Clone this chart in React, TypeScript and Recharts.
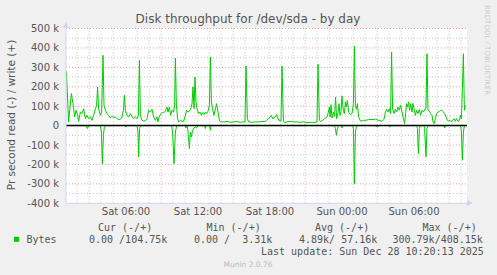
import { LineChart, Line, XAxis, YAxis, ReferenceLine, CartesianGrid } from 'recharts'

// time in minutes since Sat 00:00, values in kB/s
const title = 'Disk throughput for /dev/sda - by day'
const yLabel = 'Pr second read (-) / write (+)'
const timeTicks = [360, 720, 1080, 1440, 1800]
const timeLabels = ['Sat 06:00', 'Sat 12:00', 'Sat 18:00', 'Sun 00:00', 'Sun 06:00']
const valueTicks = [-400, -300, -200, -100, 0, 100, 200, 300, 400, 500]

const writePoints: [number, number][] = [
  [62, 280], [73, 19], [87, 165], [95, 113], [103, 45], [110, 79], [118, 53], [123, 22], [132, 70], [140, 62],
  [148, 87], [157, 36], [165, 53], [173, 36], [182, 45], [190, 27], [198, 53], [207, 87], [213, 105], [218, 199],
  [223, 87], [232, 53], [238, 70], [245, 362], [250, 105], [257, 79], [265, 62], [273, 53], [282, 39], [290, 48],
  [298, 41], [307, 45], [315, 36], [323, 31], [332, 33], [340, 45], [347, 79], [352, 156], [357, 79], [365, 53],
  [373, 45], [382, 62], [390, 48], [398, 36], [407, 45], [415, 36], [422, 53], [427, 336], [432, 53], [440, 27],
  [448, 24], [457, 24], [465, 36], [473, 79], [482, 70], [490, 84], [498, 45], [507, 27], [515, 45], [520, 19],
  [527, 48], [535, 62], [543, 67], [548, 67], [557, 74], [565, 96], [570, 70], [577, 96], [583, 53], [590, 79],
  [598, 70], [603, 105], [607, 348], [612, 105], [618, 36], [623, 19], [632, 27], [640, 22], [648, 22], [657, 53],
  [663, 79], [670, 70], [677, 74], [683, 84], [690, 113], [695, 199], [700, 87], [705, 250], [710, 122], [715, 87],
  [723, 62], [730, 70], [737, 53], [743, 67], [750, 57], [757, 70], [763, 62], [770, 74], [777, 105], [782, 353],
  [787, 122], [793, 87], [800, 53], [807, 87], [813, 113], [820, 70], [827, 27], [833, 19], [848, 19], [865, 21],
  [882, 17], [898, 19], [915, 21], [932, 17], [948, 19], [955, 19], [960, 307], [967, 36], [973, 19], [990, 17],
  [1007, 19], [1023, 19], [1040, 21], [1057, 22], [1065, 31], [1073, 36], [1082, 45], [1087, 53], [1093, 36], [1100, 39],
  [1107, 45], [1113, 57], [1120, 36], [1127, 24], [1135, 24], [1140, 307], [1147, 24], [1153, 15], [1165, 19], [1182, 22],
  [1198, 19], [1215, 19], [1232, 17], [1248, 19], [1265, 15], [1282, 17], [1298, 15], [1315, 19], [1320, 316], [1327, 27],
  [1333, 22], [1343, 27], [1353, 36], [1365, 45], [1372, 70], [1377, 96], [1380, 45], [1385, 108], [1390, 39], [1397, 70],
  [1403, 48], [1408, 147], [1413, 36], [1420, 67], [1425, 113], [1430, 53], [1435, 74], [1440, 153], [1447, 74], [1452, 62],
  [1457, 122], [1462, 96], [1467, 130], [1473, 70], [1482, 57], [1490, 62], [1497, 113], [1502, 408], [1507, 105], [1512, 84],
  [1517, 113], [1523, 45], [1532, 24], [1540, 24], [1548, 27], [1557, 27], [1573, 31], [1590, 31], [1607, 33], [1623, 27],
  [1640, 22], [1650, 33], [1657, 70], [1663, 84], [1670, 70], [1677, 87], [1683, 62], [1688, 379], [1693, 87], [1700, 62],
  [1707, 84], [1713, 70], [1720, 96], [1727, 79], [1733, 105], [1740, 70], [1747, 36], [1753, 10], [1758, 62], [1763, 113],
  [1768, 96], [1773, 122], [1778, 79], [1783, 113], [1790, 70], [1795, 113], [1800, 87], [1807, 53], [1813, 79], [1820, 62],
  [1827, 84], [1833, 53], [1840, 79], [1847, 70], [1853, 79], [1860, 96], [1865, 370], [1870, 79], [1877, 74], [1883, 62],
  [1890, 53], [1895, 19], [1900, 10], [1907, 36], [1913, 62], [1920, 70], [1927, 74], [1933, 79], [1940, 79], [1947, 70],
  [1953, 62], [1960, 45], [1967, 27], [1973, 24], [1980, 27], [1987, 19], [1993, 27], [2000, 36], [2007, 22], [2013, 36],
  [2020, 22], [2027, 27], [2032, 53], [2037, 36], [2042, 190], [2047, 370], [2052, 79], [2057, 105],
]

const readPoints: [number, number][] = [
  [60, 0], [160, 0], [167, 15], [173, 0], [232, 0], [237, 33], [242, 196], [247, 50], [252, 7], [260, 0],
  [355, 0], [360, 7], [365, 0], [415, 0], [420, 33], [423, 161], [428, 15], [433, 0], [588, 0], [593, 33],
  [600, 196], [607, 33], [612, 7], [617, 0], [657, 0], [660, 12], [663, 0], [667, 7], [670, 33], [677, 118],
  [682, 33], [687, 58], [693, 24], [700, 12], [707, 7], [713, 12], [718, 0], [753, 0], [757, 15], [760, 0],
  [778, 0], [782, 24], [785, 0], [1402, 0], [1407, 15], [1412, 50], [1417, 15], [1422, 0], [1437, 0], [1440, 12],
  [1443, 0], [1493, 0], [1497, 15], [1502, 301], [1507, 33], [1512, 7], [1517, 0], [1603, 0], [1607, 3], [1623, 3],
  [1627, 0], [1677, 0], [1680, 7], [1683, 0], [1813, 0], [1817, 15], [1822, 144], [1827, 15], [1832, 0], [1850, 0],
  [1853, 15], [1860, 161], [1865, 15], [1870, 0], [1950, 0], [1953, 12], [1957, 0], [2033, 0], [2037, 33], [2042, 178],
  [2047, 33], [2052, 0], [2057, 0],
]

const legendHeads = ['Cur (-/+)', 'Min (-/+)', 'Avg (-/+)', 'Max (-/+)']
const legendValues = ['0.00 /104.75k', '0.00 /  3.31k', '4.89k/ 57.16k', '300.79k/408.15k']
const seriesName = 'Bytes'
const lastUpdate = 'Last update: Sun Dec 28 10:20:13 2025'

const writeData = writePoints.map(([t, v]) => ({ t, v }))
const readData = readPoints.map(([t, v]) => ({ t, v: -v }))

// rrdtool grid: hour minor lines, 6h major lines, 50k / 100k horizontal
const majorX = [176, 536, 896, 1256, 1616, 1976]
const minorX: number[] = []
for (let t = 116; t <= 2060; t += 60) if (!majorX.includes(t)) minorX.push(t)
const minorY = [-350, -250, -150, -50, 50, 150, 250, 350, 450]
const majorY = [-300, -200, -100, 100, 200, 300, 400, 500]

const green = '#00cc00'
const fontColor = '#555'
const axisColor = '#cfd6f8'
const mono = '"DejaVu Sans Mono", monospace'
const sans = '"DejaVu Sans", sans-serif'

const headX = [98, 206.5, 315, 422.5]
const valX = [89, 194, 299, 392.5]

export default function App() {
  return (
    <div style={{ position: 'absolute', left: 0, top: 0, width: 497, height: 275, background: '#f0f0f0' }}>
      <LineChart width={497} height={275} data={writeData} margin={{ top: 28.5, right: 30, bottom: 51.7, left: 0 }}>
        <CartesianGrid horizontal={false} vertical={false} fill="#fff" stroke="none" />
        {minorX.map((t) => (
          <ReferenceLine key={'mx' + t} x={t} stroke="#c8c8c8" strokeDasharray="1 2" />
        ))}
        {minorY.map((v) => (
          <ReferenceLine key={'my' + v} y={v} stroke="#c8c8c8" strokeDasharray="1 2" />
        ))}
        {majorX.map((t) => (
          <ReferenceLine key={'Mx' + t} x={t} stroke="#eea0a0" strokeDasharray="1 2" />
        ))}
        {majorY.map((v) => (
          <ReferenceLine key={'My' + v} y={v} stroke="#eea0a0" strokeDasharray="1 2" />
        ))}
        <XAxis
          dataKey="t" type="number" domain={[60, 2065]} allowDataOverflow
          ticks={timeTicks} tickFormatter={(t: number) => timeLabels[timeTicks.indexOf(t)]}
          height={20} tickSize={3} tickMargin={2} tickLine={false}
          axisLine={{ stroke: axisColor }}
          tick={{ fill: fontColor, fontSize: 10, fontFamily: sans }}
        />
        <YAxis
          type="number" domain={[-400, 500]} ticks={valueTicks} allowDataOverflow
          tickFormatter={(v: number) => (v === 0 ? '0' : `${v} k`)}
          width={66} tickSize={5} tickMargin={2} tickLine={false}
          axisLine={{ stroke: axisColor }}
          tick={{ fill: fontColor, fontSize: 10, fontFamily: sans }}
        />
        <Line data={writeData} dataKey="v" type="linear" stroke={green} strokeWidth={1} dot={false} isAnimationActive={false} />
        <Line data={readData} dataKey="v" type="linear" stroke={green} strokeWidth={1} dot={false} isAnimationActive={false} />
        <ReferenceLine y={0} stroke="#000" strokeWidth={1.5} />
      </LineChart>
      <svg width={497} height={275} style={{ position: 'absolute', left: 0, top: 0, pointerEvents: 'none' }}>
        <polygon points="63,28 69,28 66,22" fill={axisColor} />
        <polygon points="467,200 467,206 473,203" fill={axisColor} />
        <text x={248} y={23} textAnchor="middle" fontSize={12} fill={fontColor} fontFamily={sans}>{title}</text>
        <text transform="translate(14.5,115) rotate(-90)" textAnchor="middle" fontSize={10.5} fill={fontColor} fontFamily={sans}>{yLabel}</text>
        <text transform="translate(484.5,5) rotate(90)" fontSize={7} fill="#ccc" fontFamily={sans}>RRDTOOL / TOBI OETIKER</text>
        {legendHeads.map((h, i) => (
          <text key={h} x={headX[i]} y={231.3} fontSize={10} fill={fontColor} fontFamily={mono} style={{ whiteSpace: 'pre' }}>{h}</text>
        ))}
        <rect x={14} y={236.8} width={5} height={5} fill={green} />
        <text x={26.5} y={243} fontSize={10} fill={fontColor} fontFamily={mono}>{seriesName}</text>
        {legendValues.map((s, i) => (
          <text key={i} x={valX[i]} y={243} fontSize={10} fill={fontColor} fontFamily={mono} style={{ whiteSpace: 'pre' }}>{s}</text>
        ))}
        <text x={261} y={255.3} fontSize={10} fill={fontColor} fontFamily={mono} style={{ whiteSpace: 'pre' }}>{lastUpdate}</text>
        <text x={248} y={267} textAnchor="middle" fontSize={7.5} fill="#bbb" fontFamily={sans}>Munin 2.0.76</text>
      </svg>
    </div>
  )
}
